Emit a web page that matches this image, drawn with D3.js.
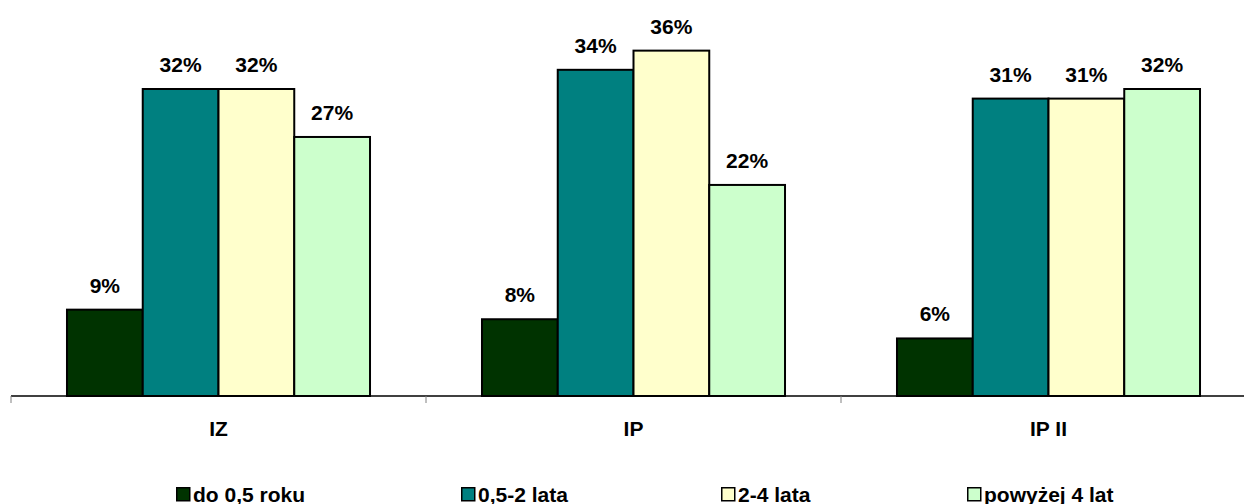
<!DOCTYPE html>
<html>
<head>
<meta charset="utf-8">
<script src="https://cdn.jsdelivr.net/npm/d3@7"></script>
<style>
  html, body { margin: 0; padding: 0; background: #fff; }
  svg { display: block; }
  text { font-family: "Liberation Sans", Arial, sans-serif; font-weight: bold; fill: #000; }
</style>
</head>
<body>
<svg id="chart" width="1244" height="504"></svg>
<script>
const categories = ["IZ", "IP", "IP II"];
const seriesNames = ["do 0,5 roku", "0,5-2 lata", "2-4 lata", "powyżej 4 lat"];
const seriesColors = ["#003300", "#008080", "#FFFFCC", "#CCFFCC"];
const values = [
  [9, 32, 32, 27],   // IZ
  [8, 34, 36, 22],   // IP
  [6, 31, 31, 32]    // IP II
];

const svg = d3.select("#chart");
const baseY = 396;
const FS = 21;

const x0 = d3.scaleBand().domain(categories).range([11, 1256]).paddingInner(0).paddingOuter(0);
const x1 = d3.scaleBand().domain(d3.range(seriesNames.length)).range([0, x0.bandwidth()])
  .paddingInner(0).paddingOuter(0.739);
const y = d3.scaleLinear().domain([0, 40]).range([baseY, baseY - 383.75]);

// bars
const groups = svg.append("g").selectAll("g").data(categories).join("g")
  .attr("transform", d => `translate(${x0(d)},0)`);

groups.each(function(cat, ci) {
  const g = d3.select(this);
  const data = values[ci].map((v, si) => ({v, si}));
  g.selectAll("rect").data(data).join("rect")
    .attr("x", d => x1(d.si))
    .attr("y", d => y(d.v))
    .attr("width", x1.bandwidth())
    .attr("height", d => y(0) - y(d.v))
    .attr("fill", d => seriesColors[d.si])
    .attr("stroke", "#000")
    .attr("stroke-width", 2);
  g.selectAll("text.val").data(data).join("text")
    .attr("class", "val")
    .attr("x", d => x1(d.si) + x1.bandwidth() / 2)
    .attr("y", d => y(d.v) - 17)
    .attr("text-anchor", "middle")
    .attr("font-size", FS)
    .text(d => d.v + "%");
});

// axis
const axis = d3.axisBottom(x0).tickSize(0).tickFormat(d => d);
const axG = svg.append("g").attr("transform", `translate(0,${baseY})`).call(axis);
axG.select(".domain").remove();
axG.selectAll(".tick text")
  .attr("dy", 0).attr("y", 40)
  .attr("font-size", FS)
  .style("font-family", '"Liberation Sans", Arial, sans-serif')
  .style("font-weight", "bold");
svg.append("line").attr("x1", 11).attr("x2", 1256).attr("y1", baseY).attr("y2", baseY)
  .attr("stroke", "#000").attr("stroke-width", 1.5);
// tick marks at category boundaries
const bounds = categories.map(c => x0(c)).concat([x0.range()[1]]);
svg.append("g").selectAll("line").data(bounds).join("line")
  .attr("x1", d => d).attr("x2", d => d)
  .attr("y1", baseY).attr("y2", baseY + 7)
  .attr("stroke", "#808080").attr("stroke-width", 1);

// legend
const legendX = [176, 461, 721, 967];
const leg = svg.append("g").selectAll("g").data(seriesNames).join("g")
  .attr("transform", (d, i) => `translate(${legendX[i]},487)`);
leg.append("rect").attr("x", 0.75).attr("y", 0.75).attr("width", 13).attr("height", 13)
  .attr("fill", (d, i) => seriesColors[i]).attr("stroke", "#000").attr("stroke-width", 1.5);
leg.append("text").attr("x", 17).attr("y", 14.5).attr("font-size", FS).text(d => d);
</script>
</body>
</html>
